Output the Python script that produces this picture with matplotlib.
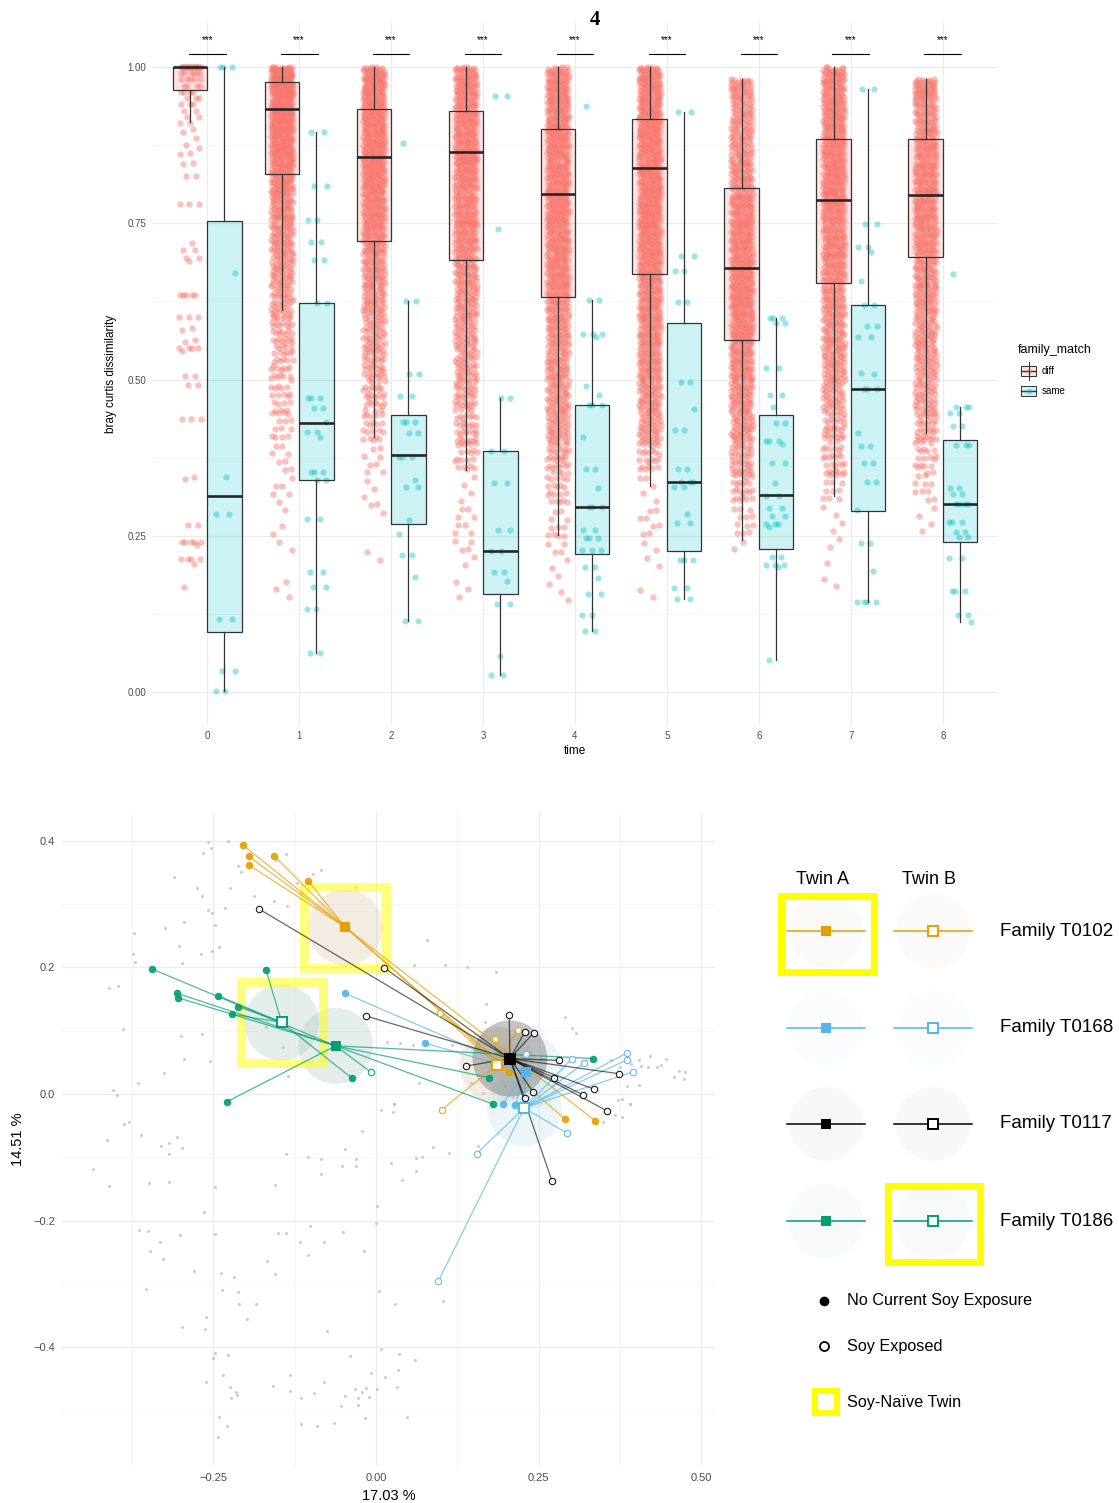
import numpy as np
import matplotlib
matplotlib.use("Agg")
import matplotlib.pyplot as plt
from matplotlib.patches import Rectangle, Ellipse, Circle
from matplotlib.ticker import FixedLocator, FixedFormatter

plt.rcParams['font.family'] = ['Liberation Sans', 'DejaVu Sans']

W, H = 1119, 1503

# ---------------- top panel data ----------------
times = [0, 1, 2, 3, 4, 5, 6, 7, 8]
diff_q1 = [0.963, 0.828, 0.721, 0.691, 0.632, 0.669, 0.564, 0.655, 0.696]
diff_med = [1.0, 0.933, 0.856, 0.864, 0.796, 0.838, 0.679, 0.787, 0.795]
diff_q3 = [1.0, 0.975, 0.933, 0.930, 0.901, 0.916, 0.807, 0.884, 0.885]
diff_lo = [0.911, 0.612, 0.408, 0.356, 0.252, 0.330, 0.244, 0.314, 0.415]
diff_hi = [1.0, 1.0, 1.0, 1.0, 1.0, 1.0, 0.981, 1.0, 0.981]
same_q1 = [0.097, 0.340, 0.270, 0.158, 0.221, 0.226, 0.229, 0.290, 0.240]
same_med = [0.314, 0.431, 0.379, 0.226, 0.297, 0.336, 0.316, 0.485, 0.301]
same_q3 = [0.753, 0.622, 0.443, 0.386, 0.459, 0.591, 0.444, 0.620, 0.403]
same_lo = [0.002, 0.063, 0.115, 0.028, 0.099, 0.150, 0.052, 0.145, 0.112]
same_hi = [1.0, 0.895, 0.625, 0.470, 0.628, 0.928, 0.599, 0.965, 0.456]

# time 0, different families (sparse enough to read individually)
diff_t0 = ([1.0] * 20 + [0.99] * 6 + [0.98] * 5 + [0.97] * 4 + [0.96] * 4 + [0.95] * 3
           + [0.94] * 3 + [0.93] * 2 + [0.92] * 2 + [0.91] * 2
           + [0.90, 0.895, 0.886, 0.875, 0.87, 0.862, 0.86, 0.847, 0.845, 0.826, 0.826,
              0.78, 0.78, 0.78, 0.718, 0.707, 0.707, 0.694, 0.694, 0.69]
           + [0.635] * 5 + [0.60, 0.60, 0.60, 0.582, 0.58, 0.563, 0.56] + [0.551] * 4
           + [0.545, 0.506, 0.506, 0.491, 0.491, 0.437, 0.437, 0.437, 0.345, 0.341,
              0.267, 0.267] + [0.241] * 5 + [0.236] + [0.214] * 4 + [0.206, 0.169])

# times 1-8, different families: point counts per 0.05 bin (too dense to read singly)
bin_lo = [0.10, 0.15, 0.20, 0.25, 0.30, 0.35, 0.40, 0.45, 0.50,
          0.55, 0.60, 0.65, 0.70, 0.75, 0.80, 0.85, 0.90, 0.95]
diff_bins = {
    1: [0, 3, 2, 3, 6, 8, 14, 18, 25, 35, 45, 55, 65, 75, 90, 110, 120, 140],
    2: [0, 0, 2, 2, 4, 8, 20, 30, 40, 45, 55, 65, 75, 85, 95, 100, 100, 100],
    3: [0, 3, 6, 8, 4, 20, 30, 40, 45, 50, 60, 65, 70, 75, 80, 85, 85, 85],
    4: [1, 4, 6, 10, 20, 35, 50, 55, 60, 65, 70, 75, 80, 85, 85, 85, 85, 85],
    5: [0, 2, 4, 8, 5, 25, 50, 60, 70, 75, 80, 85, 90, 95, 95, 95, 95, 95],
    6: [0, 0, 2, 12, 25, 40, 55, 65, 75, 80, 85, 85, 80, 75, 70, 60, 55, 40],
    7: [0, 2, 3, 4, 12, 25, 35, 45, 55, 60, 65, 70, 75, 80, 85, 85, 85, 85],
    8: [0, 0, 0, 4, 10, 20, 35, 45, 50, 55, 60, 65, 70, 75, 75, 70, 65, 50],
}

same_pts = {
    0: [1.0, 1.0, 1.0, 0.67, 0.345, 0.285, 0.285, 0.118, 0.118, 0.034, 0.034, 0.002, 0.002],
    1: [0.895, 0.895, 0.81, 0.81, 0.755, 0.755, 0.72, 0.72, 0.692, 0.692, 0.622, 0.622,
        0.47, 0.47, 0.47, 0.455, 0.455, 0.432, 0.416, 0.416, 0.408, 0.352, 0.352, 0.352,
        0.34, 0.34, 0.277, 0.277, 0.193, 0.193, 0.168, 0.168, 0.134, 0.134, 0.063, 0.063],
    2: [0.879, 0.625, 0.625, 0.509, 0.509, 0.474, 0.474, 0.432, 0.432, 0.432, 0.414, 0.414,
        0.376, 0.376, 0.376, 0.339, 0.328, 0.328, 0.276, 0.254, 0.22, 0.22, 0.184, 0.115, 0.115],
    3: [0.953, 0.953, 0.741, 0.47, 0.47, 0.386, 0.386, 0.335, 0.335, 0.259, 0.259, 0.226,
        0.226, 0.192, 0.192, 0.178, 0.141, 0.141, 0.059, 0.028, 0.028],
    4: [0.938, 0.628, 0.628, 0.573, 0.573, 0.573, 0.568, 0.49, 0.475, 0.459, 0.459, 0.459,
        0.408, 0.357, 0.357, 0.326, 0.297, 0.297, 0.297, 0.26, 0.26, 0.247, 0.247, 0.247,
        0.227, 0.227, 0.227, 0.201, 0.201, 0.183, 0.158, 0.158, 0.124, 0.124, 0.099, 0.099],
    5: [0.928, 0.928, 0.698, 0.698, 0.673, 0.673, 0.624, 0.624, 0.496, 0.496, 0.453, 0.42,
        0.42, 0.357, 0.357, 0.336, 0.336, 0.336, 0.328, 0.328, 0.286, 0.271, 0.271, 0.211,
        0.211, 0.211, 0.167, 0.167, 0.15, 0.15],
    6: [0.599, 0.599, 0.599, 0.591, 0.591, 0.518, 0.518, 0.475, 0.475, 0.457, 0.431, 0.431,
        0.402, 0.402, 0.402, 0.397, 0.366, 0.366, 0.334, 0.314, 0.314, 0.295, 0.295, 0.282,
        0.282, 0.269, 0.269, 0.269, 0.265, 0.217, 0.217, 0.203, 0.203, 0.203, 0.2, 0.052],
    7: [0.965, 0.965, 0.749, 0.749, 0.712, 0.712, 0.704, 0.657, 0.62, 0.62, 0.585, 0.585,
        0.568, 0.568, 0.511, 0.509, 0.485, 0.485, 0.485, 0.414, 0.394, 0.394, 0.366, 0.366,
        0.336, 0.336, 0.291, 0.239, 0.239, 0.194, 0.145, 0.145, 0.145, 0.145],
    8: [0.669, 0.457, 0.457, 0.457, 0.447, 0.447, 0.426, 0.426, 0.395, 0.395, 0.395, 0.327,
        0.327, 0.318, 0.318, 0.301, 0.301, 0.301, 0.301, 0.272, 0.272, 0.272, 0.257, 0.257,
        0.248, 0.248, 0.215, 0.215, 0.162, 0.162, 0.162, 0.124, 0.124, 0.112],
}

# ---------------- bottom panel data ----------------
bg_x = [-0.258, -0.254, -0.227, -0.266, -0.213, -0.208, -0.225, -0.276, -0.311, -0.268,
        -0.233, -0.258, -0.252, -0.248, -0.295, -0.325, -0.373, -0.303, -0.269, -0.241,
        -0.253, -0.374, -0.371, -0.298, -0.411, -0.397, -0.389, -0.300, -0.267, -0.255,
        -0.295, -0.326, -0.366, -0.405, -0.399, -0.154, -0.138, -0.097, -0.085, -0.105,
        -0.188, -0.157, -0.137, -0.122, -0.032, -0.115, 0.078, 0.058, 0.106, 0.140,
        0.185, -0.143, -0.135, -0.169, 0.037, 0.017, 0.057, 0.117, 0.066, 0.027,
        0.008, 0.167, 0.170, 0.291, 0.302, 0.308, 0.254, 0.361, 0.375, 0.386,
        0.393, 0.405, 0.421, 0.446, 0.432, 0.439, 0.407, 0.419, 0.459, 0.466,
        0.476, 0.474, 0.386, 0.404, 0.372, 0.390, 0.379, 0.349, 0.339, 0.270,
        0.146, 0.164, 0.199, 0.220, 0.210, 0.157,
        -0.388, -0.380, -0.362, -0.414, -0.330, -0.319, -0.306, -0.298, -0.319, -0.436,
        -0.411, -0.349, -0.318, -0.248, -0.265, -0.364, -0.351, -0.248, -0.301, -0.332,
        -0.347, -0.327, -0.280, -0.239, -0.218, -0.354, -0.237, -0.212, -0.211, -0.184,
        -0.198, -0.299, -0.262, -0.263, -0.248, -0.250, -0.227, -0.261, -0.236, -0.225,
        -0.216, -0.214, -0.223, -0.241, -0.229, -0.243, -0.138, -0.104, -0.085, -0.085,
        -0.052, -0.031, -0.030, -0.022, 0.026, 0.028, 0.023, 0.040, 0.061, 0.071,
        0.061, 0.088, 0.113, -0.155, -0.047, 0.001, 0.000, -0.150, -0.138, -0.117,
        -0.101, -0.080, -0.105, -0.051, -0.018, -0.167, -0.155, 0.005, 0.030, 0.103,
        -0.076, 0.007, -0.040, 0.035, 0.060, 0.034, 0.014, -0.007, -0.133, -0.159,
        -0.133, -0.096, -0.080, -0.116, -0.054, -0.047, -0.032, -0.021, -0.016, -0.028,
        -0.028, -0.011, 0.001, 0.033, -0.116, -0.090, -0.064, -0.017, 0.048, 0.157,
        0.368, 0.379, 0.391]
bg_y = [0.398, 0.388, 0.399, 0.380, 0.360, 0.351, 0.325, 0.325, 0.342, 0.312,
        0.294, 0.291, 0.286, 0.267, 0.272, 0.262, 0.254, 0.234, 0.221, 0.232,
        0.225, 0.221, 0.208, 0.206, 0.168, 0.171, 0.103, 0.091, 0.094, 0.052,
        0.055, 0.033, 0.018, 0.007, -0.002, 0.369, 0.378, 0.347, 0.353, 0.334,
        0.313, 0.305, 0.296, 0.333, 0.327, 0.317, 0.243, 0.203, 0.203, 0.201,
        0.192, 0.074, 0.029, 0.105, 0.081, 0.082, 0.077, 0.078, 0.018, -0.015,
        -0.026, 0.114, 0.142, 0.122, 0.104, 0.096, 0.055, 0.053, 0.043, 0.059,
        0.048, 0.053, 0.060, 0.056, 0.043, 0.046, 0.044, 0.043, 0.027, 0.037,
        0.035, 0.023, 0.012, 0.014, -0.009, -0.015, -0.008, -0.044, -0.046, 0.012,
        0.017, 0.001, 0.012, 0.012, -0.004, 0.072,
        -0.048, -0.044, -0.065, -0.073, -0.082, -0.078, -0.068, -0.085, -0.094, -0.119,
        -0.145, -0.141, -0.139, -0.146, -0.186, -0.214, -0.216, -0.221, -0.223, -0.233,
        -0.248, -0.260, -0.280, -0.282, -0.288, -0.307, -0.310, -0.313, -0.332, -0.332,
        -0.355, -0.368, -0.352, -0.371, -0.409, -0.416, -0.412, -0.454, -0.443, -0.463,
        -0.470, -0.475, -0.480, -0.510, -0.524, -0.541, -0.095, -0.099, -0.103, -0.127,
        -0.113, -0.103, -0.114, -0.058, -0.029, -0.016, -0.109, -0.135, -0.101, -0.100,
        -0.122, -0.084, -0.093, -0.143, -0.086, -0.176, -0.203, -0.220, -0.220, -0.234,
        -0.208, -0.234, -0.254, -0.217, -0.248, -0.263, -0.284, -0.311, -0.332, -0.326,
        -0.374, -0.402, -0.413, -0.410, -0.420, -0.436, -0.446, -0.441, -0.444, -0.461,
        -0.469, -0.472, -0.454, -0.479, -0.492, -0.476, -0.466, -0.471, -0.464, -0.479,
        -0.490, -0.478, -0.466, -0.462, -0.520, -0.524, -0.519, -0.512, -0.509, -0.082,
        -0.033, -0.036, -0.015]

fam_names = ["Family T0102", "Family T0168", "Family T0117", "Family T0186"]
fam_colors = ["#E69F00", "#56B4E9", "#000000", "#009E73"]
fam_shades = ["#d8c3a5", "#bfe0e6", "#555555", "#a9c4bf"]
shade_alpha = [0.3, 0.3, 0.19, 0.3]
legend_alpha = [0.07, 0.07, 0.04, 0.07]
cent_a_x = [-0.047, 0.231, 0.206, -0.062]
cent_a_y = [0.263, 0.035, 0.056, 0.076]
cent_b_x = [0.186, 0.228, 0.206, -0.145]
cent_b_y = [0.046, -0.022, 0.056, 0.113]
naive = [("A", 0), ("B", 3)]  # soy-naive twins: (twin, family index)

twin_a_x = [[-0.205, -0.196, -0.195, -0.157, -0.104, 0.204, 0.290, 0.337],
            [-0.048, 0.076, 0.195, 0.214],
            [-0.180, 0.013, -0.015, 0.205, 0.229, 0.243, 0.138, 0.282, 0.274, 0.374,
             0.335, 0.318, 0.356, 0.242, 0.229, 0.271],
            [0.334, 0.174, 0.180, -0.229, -0.007, -0.344, -0.306, -0.305]]
twin_a_y = [[0.393, 0.375, 0.361, 0.376, 0.336, 0.035, -0.039, -0.042],
            [0.159, 0.080, -0.015, -0.017],
            [0.292, 0.199, 0.123, 0.125, 0.098, 0.097, 0.044, 0.053, 0.026, 0.032,
             0.008, -0.001, -0.027, 0.003, -0.007, -0.138],
            [0.056, 0.026, -0.016, -0.012, 0.034, 0.197, 0.159, 0.152]]
twin_a_soy = [[0, 0, 0, 0, 0, 0, 0, 0],
              [0, 0, 0, 0],
              [1] * 16,
              [0, 0, 0, 0, 1, 0, 0, 0]]
twin_b_x = [[0.098, 0.183, 0.218, 0.101],
            [0.231, 0.302, 0.320, 0.386, 0.386, 0.396, 0.294, 0.155, 0.096],
            [],
            [-0.169, -0.037, -0.243, -0.222, -0.212]]
twin_b_y = [[0.128, 0.087, 0.101, -0.025],
            [0.063, 0.056, 0.049, 0.065, 0.054, 0.035, -0.062, -0.094, -0.295],
            [],
            [0.195, 0.025, 0.155, 0.126, 0.138]]
twin_b_soy = [[1, 1, 1, 1], [1] * 9, [], [0, 0, 0, 0, 0]]

DIFF_COL = "#F8766D"
SAME_COL = "#00BFC4"


def r2(n, k0=0):
    # low-discrepancy offsets in [0, 1) used only for jitter placement
    k = np.arange(k0, k0 + n) + 1
    return (k * 0.7548776662) % 1.0, (k * 0.5698402910) % 1.0


fig = plt.figure(figsize=(W / 100, H / 100), dpi=100)

# ======================= top panel =======================
ax = fig.add_axes([152 / W, 1 - 725 / H, 846 / W, 702 / H])
ax.set_xlim(-0.6, 8.6)
ax.set_ylim(-0.052, 1.07)
for s in ax.spines.values():
    s.set_visible(False)
ax.set_xticks(times)
ax.set_xticklabels([str(t) for t in times])
ax.set_yticks([0, 0.25, 0.5, 0.75, 1.0])
ax.set_yticklabels(["0.00", "0.25", "0.50", "0.75", "1.00"])
ax.yaxis.set_minor_locator(FixedLocator([0.125, 0.375, 0.625, 0.875]))
ax.tick_params(axis="both", which="both", length=0, labelsize=7, labelcolor="#4d4d4d", pad=4)
ax.grid(True, which="major", color="#ebebeb", lw=0.8)
ax.grid(True, which="minor", axis="y", color="#f2f2f2", lw=0.45)
ax.set_axisbelow(True)
ax.set_xlabel("time", fontsize=8.5, labelpad=3)
ax.set_ylabel("bray curtis dissimilarity", fontsize=8.5, labelpad=8)

off = 0.1875
jit = 0.12
cnt = 0
for t in times:
    if t == 0:
        vals = np.array(diff_t0)
    else:
        vals = []
        top = diff_hi[t]
        for lo, c in zip(bin_lo, diff_bins[t]):
            fy, _ = r2(c, cnt)
            cnt += c
            hi = min(lo + 0.05, top)
            vals.extend(lo + (hi - lo) * fy)
        vals = np.array(vals)
    _, fx = r2(len(vals), cnt)
    cnt += len(vals)
    ax.scatter(t - off + jit * (2 * fx - 1), vals, s=21, color=DIFF_COL, alpha=0.45,
               linewidths=0, zorder=2)
    sv = np.array(same_pts[t])
    _, fx = r2(len(sv), 7 * t + 3)
    ax.scatter(t + off + jit * (2 * fx - 1), sv, s=20, color=SAME_COL, alpha=0.4,
               linewidths=0, zorder=2)

for q1, med, q3, lo, hi, shift, col in [
        (diff_q1, diff_med, diff_q3, diff_lo, diff_hi, -off, DIFF_COL),
        (same_q1, same_med, same_q3, same_lo, same_hi, off, SAME_COL)]:
    stats = [dict(q1=q1[i], med=med[i], q3=q3[i], whislo=lo[i], whishi=hi[i], fliers=[])
             for i in range(len(times))]
    ax.bxp(stats, positions=[t + shift for t in times], widths=0.375, patch_artist=True,
           showfliers=False, showcaps=False, manage_ticks=False, zorder=3,
           boxprops=dict(facecolor=matplotlib.colors.to_rgba(col, 0.2), edgecolor="#333333", lw=0.9),
           medianprops=dict(color="#262626", lw=1.9),
           whiskerprops=dict(color="#333333", lw=0.9))

for t in times:
    ax.plot([t - 0.2, t + 0.2], [1.021, 1.021], color="black", lw=0.8, zorder=4)
    ax.text(t, 1.034, "***", ha="center", va="bottom", fontsize=7, zorder=4)

fig.text(595 / W, 1 - 20 / H, "4", ha="center", va="center", fontsize=15,
         fontweight="bold", family="Liberation Serif")

# ======================= bottom panel =======================
bx = fig.add_axes([62 / W, 1 - 1466 / H, 653 / W, 654 / H])
bx.set_xlim(-0.483, 0.5215)
bx.set_ylim(-0.587, 0.445)
for s in bx.spines.values():
    s.set_visible(False)
bx.xaxis.set_major_locator(FixedLocator([-0.25, 0.0, 0.25, 0.5]))
bx.xaxis.set_major_formatter(FixedFormatter(["\u22120.25", "0.00", "0.25", "0.50"]))
bx.xaxis.set_minor_locator(FixedLocator([-0.375, -0.125, 0.125, 0.375]))
bx.yaxis.set_major_locator(FixedLocator([-0.4, -0.2, 0.0, 0.2, 0.4]))
bx.yaxis.set_major_formatter(FixedFormatter(["\u22120.4", "\u22120.2", "0.0", "0.2", "0.4"]))
bx.yaxis.set_minor_locator(FixedLocator([-0.5, -0.3, -0.1, 0.1, 0.3]))
bx.tick_params(axis="both", which="both", length=0, labelsize=8, labelcolor="#4d4d4d", pad=5)
bx.grid(True, which="major", color="#ebebeb", lw=0.8)
bx.grid(True, which="minor", color="#f2f2f2", lw=0.45)
bx.set_axisbelow(True)
bx.set_xlabel("17.03 %", fontsize=10.5, labelpad=4)
bx.set_ylabel("14.51 %", fontsize=10.5, labelpad=6)

bx.scatter(bg_x, bg_y, s=5, color="#bdbdbd", alpha=0.75, linewidths=0, zorder=1)

for i in range(4):
    for cx, cy in [(cent_a_x[i], cent_a_y[i]), (cent_b_x[i], cent_b_y[i])]:
        bx.add_patch(Ellipse((cx, cy), 0.115, 0.12, facecolor=fam_shades[i],
                             alpha=shade_alpha[i], edgecolor="none", zorder=2))

for twin, i in naive:
    cx, cy = (cent_a_x[i], cent_a_y[i]) if twin == "A" else (cent_b_x[i], cent_b_y[i])
    bx.add_patch(Rectangle((cx - 0.063, cy - 0.064), 0.126, 0.128, fill=False,
                           edgecolor="#ffff00", alpha=0.5, lw=6.5, zorder=3))

for i in range(4):
    col = fam_colors[i]
    lalpha = 0.6 if col == "#000000" else 0.7
    for xs, ys, soy, cx, cy in [(twin_a_x[i], twin_a_y[i], twin_a_soy[i], cent_a_x[i], cent_a_y[i]),
                                (twin_b_x[i], twin_b_y[i], twin_b_soy[i], cent_b_x[i], cent_b_y[i])]:
        for x, y, e in zip(xs, ys, soy):
            bx.plot([x, cx], [y, cy], color=col, lw=0.9, alpha=lalpha, zorder=4)
            bx.plot(x, y, marker="o", ms=4.6, mew=0.8, color=col,
                    mfc="white" if e else col, alpha=0.9, zorder=5)

for i in [2, 0, 1, 3]:
    col = fam_colors[i]
    bx.plot(cent_b_x[i], cent_b_y[i], marker="s", ms=7, mew=1.4, mfc="white", mec=col, zorder=6)
    bx.plot(cent_a_x[i], cent_a_y[i], marker="s", ms=7.5, mew=0, color=col, zorder=7)

# ======================= legends (pixel layout) =======================
lax = fig.add_axes([0, 0, 1, 1], facecolor="none")
lax.set_xlim(0, W)
lax.set_ylim(H, 0)
lax.axis("off")

# family_match legend for top panel
lax.text(1018, 350, "family_match", fontsize=9, va="center", ha="left")
for yk, col, lab in [(371, DIFF_COL, "diff"), (391, SAME_COL, "same")]:
    lax.plot([1028.5, 1028.5], [362, 380], color="#333333", lw=0.7)
    lax.add_patch(Rectangle((1021, yk - 5), 15, 10, facecolor=matplotlib.colors.to_rgba(col, 0.2),
                            edgecolor="#333333", lw=0.7))
    lax.plot([1021, 1036], [yk, yk], color="#333333", lw=1.0)
    lax.plot(1028.5, yk, marker="o", ms=4, color=col, alpha=0.4, mew=0)
    lax.text(1042, yk, lab, fontsize=7, va="center", ha="left")

# twin / family legend
lax.text(823, 880, "Twin A", fontsize=13, ha="center", va="center")
lax.text(929, 880, "Twin B", fontsize=13, ha="center", va="center")
row_y = [931, 1028, 1124, 1221]
col_x = [826, 933]
for i in range(4):
    yc = row_y[i]
    for j, xc in enumerate(col_x):
        lax.add_patch(Circle((xc, yc), 37, facecolor=fam_shades[i], alpha=legend_alpha[i],
                             edgecolor="none"))
        lax.plot([xc - 39, xc + 39], [yc, yc], color=fam_colors[i], lw=1.1)
        if j == 0:
            lax.plot(xc, yc, marker="s", ms=7.5, mew=0, color=fam_colors[i])
        else:
            lax.plot(xc, yc, marker="s", ms=7, mew=1.4, mfc="white", mec=fam_colors[i])
    lax.text(1000, yc, fam_names[i], fontsize=13.5, ha="left", va="center")

lax.add_patch(Rectangle((780.5, 895.5), 93, 76, fill=False, edgecolor="#ffff00", lw=5))
lax.add_patch(Rectangle((887.5, 1185.5), 92, 76, fill=False, edgecolor="#ffff00", lw=5))

lax.plot(824, 1301, marker="o", ms=7, color="black", mew=0)
lax.text(847, 1301, "No Current Soy Exposure", fontsize=11.7, va="center", ha="left")
lax.plot(824, 1346, marker="o", ms=6.5, mfc="white", mec="black", mew=1.3)
lax.text(847, 1346, "Soy Exposed", fontsize=11.7, va="center", ha="left")
lax.add_patch(Rectangle((815, 1391), 22, 22, fill=False, edgecolor="#ffff00", lw=4.3))
lax.text(847, 1403, "Soy-Na\u00efve Twin", fontsize=11.7, va="center", ha="left")

fig.savefig("out.png", dpi=100)
